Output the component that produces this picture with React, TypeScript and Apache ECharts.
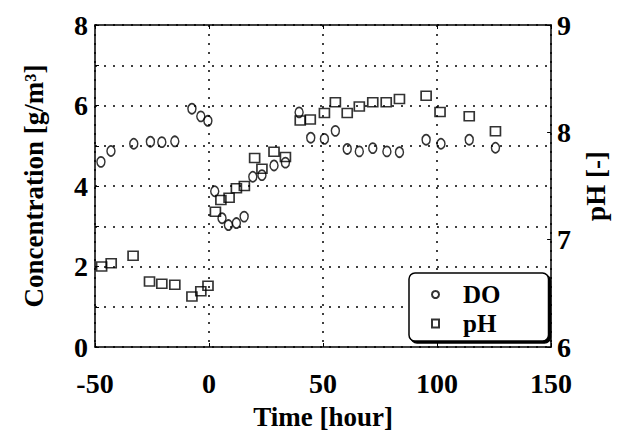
import React, { useEffect, useRef } from "react";
import * as echarts from "echarts";

const doTime = [-47.4, -43, -33, -25.7, -20.7, -15, -7.5, -3.6, -0.5, 2.5, 5.7, 8.5, 12, 15.4, 19.2, 23.2, 28.5, 33.5, 39.5, 44.6, 50.6, 55.4, 60.6, 65.9, 71.8, 78, 83.5, 95.2, 101.7, 114.1, 125.6];
const doValues = [4.6, 4.87, 5.05, 5.1, 5.09, 5.11, 5.92, 5.73, 5.62, 3.87, 3.2, 3.03, 3.08, 3.24, 4.23, 4.27, 4.51, 4.58, 5.83, 5.2, 5.17, 5.37, 4.92, 4.86, 4.94, 4.86, 4.84, 5.15, 5.05, 5.15, 4.95];

const phTime = [-47.1, -42.9, -33.3, -26.1, -20.7, -15, -7.5, -3.6, -0.45, 2.8, 5.2, 8.8, 12, 15.5, 20, 23.2, 28.5, 33.5, 40, 44.4, 50.6, 55.4, 60.6, 65.9, 71.8, 77.7, 83.5, 95.2, 101.3, 114.1, 125.6];
const phValues = [6.75, 6.78, 6.85, 6.61, 6.59, 6.58, 6.47, 6.52, 6.57, 7.26, 7.37, 7.39, 7.48, 7.5, 7.76, 7.66, 7.82, 7.77, 8.11, 8.12, 8.18, 8.28, 8.18, 8.24, 8.28, 8.28, 8.31, 8.34, 8.19, 8.15, 8.01];

const xTicks = [-50, 0, 50, 100, 150];
const concLabels = [0, 2, 4, 6, 8];
const phLabels = [6, 7, 8, 9];

const FONT = "Liberation Serif";

export default function App() {
  const ref = useRef<HTMLDivElement>(null);
  useEffect(() => {
    if (!ref.current) return;
    const chart = echarts.init(ref.current, null, { renderer: "svg" });
    const dotted = { color: "#000", width: 1.5, type: [2, 7] as any };
    const labelStyle = { color: "#000", fontFamily: FONT, fontWeight: "bold" as const, fontSize: 28 };
    const nameStyle = { color: "#000", fontFamily: FONT, fontWeight: "bold" as const, fontSize: 27 };
    chart.setOption({
      animation: false,
      backgroundColor: "#fff",
      grid: { left: 95, right: 55, top: 25, bottom: 85, containLabel: false },
      legend: {
        orient: "vertical",
        left: 409,
        top: 273,
        padding: [9, 48, 5, 22],
        itemGap: 4,
        itemWidth: 7,
        itemHeight: 8,
        backgroundColor: "#fff",
        borderColor: "#000",
        borderWidth: 1.5,
        borderRadius: 6,
        shadowColor: "#000",
        shadowBlur: 0,
        shadowOffsetX: 2,
        shadowOffsetY: 2,
        textStyle: { ...labelStyle, fontSize: 25, padding: [0, 0, 0, 19] },
        data: ["DO", "pH"],
      },
      xAxis: [
        {
          type: "value",
          min: -50,
          max: 150,
          interval: 50,
          name: "Time [hour]",
          nameLocation: "middle",
          nameGap: 56,
          nameTextStyle: nameStyle,
          axisLine: { show: true, lineStyle: { color: "#000", width: 1.5 } },
          axisTick: { show: true, inside: true, length: 4, lineStyle: { color: "#000" } },
          axisLabel: {
            ...labelStyle,
            margin: 22,
            formatter: (v: number) => (xTicks.includes(v) ? String(v) : ""),
          },
          splitLine: { show: true, lineStyle: dotted },
        },
        {
          type: "value",
          position: "top",
          min: -50,
          max: 150,
          interval: 50,
          axisLine: { show: true, onZero: false, lineStyle: { color: "#000", width: 1.5 } },
          axisTick: { show: true, inside: true, length: 4, lineStyle: { color: "#000" } },
          axisLabel: { show: false },
          splitLine: { show: false },
        },
      ],
      yAxis: [
        {
          type: "value",
          min: 0,
          max: 8,
          interval: 1,
          name: "Concentration [g/m³]",
          nameLocation: "middle",
          nameRotate: 90,
          nameGap: 48,
          nameTextStyle: nameStyle,
          axisLine: { show: true, onZero: false, lineStyle: { color: "#000", width: 1.5 } },
          axisTick: { show: true, inside: true, length: 4, lineStyle: { color: "#000" } },
          axisLabel: {
            ...labelStyle,
            margin: 7,
            formatter: (v: number) => (concLabels.includes(v) ? String(v) : ""),
          },
          splitLine: { show: true, lineStyle: dotted },
        },
        {
          type: "value",
          position: "right",
          min: 6,
          max: 9,
          interval: 1,
          name: "pH [-]",
          nameLocation: "middle",
          nameRotate: 90,
          nameGap: 25,
          nameTextStyle: nameStyle,
          axisLine: { show: true, onZero: false, lineStyle: { color: "#000", width: 1.5 } },
          axisTick: { show: true, inside: true, length: 4, lineStyle: { color: "#000" } },
          axisLabel: {
            ...labelStyle,
            margin: 6,
            formatter: (v: number) => (phLabels.includes(v) ? String(v) : ""),
          },
          splitLine: { show: false },
        },
      ],
      series: [
        {
          name: "DO",
          type: "scatter",
          xAxisIndex: 0,
          yAxisIndex: 0,
          symbol: "circle",
          symbolSize: [8, 10],
          itemStyle: { color: "rgba(255,255,255,0)", borderColor: "#000", borderWidth: 1.6 },
          data: doTime.map((t, i) => [t, doValues[i]]),
        },
        {
          name: "pH",
          type: "scatter",
          xAxisIndex: 0,
          yAxisIndex: 1,
          symbol: "rect",
          symbolSize: [10, 9],
          itemStyle: { color: "rgba(255,255,255,0)", borderColor: "#000", borderWidth: 1.6 },
          data: phTime.map((t, i) => [t, phValues[i]]),
        },
      ],
    });
    return () => chart.dispose();
  }, []);
  return <div ref={ref} style={{ position: "fixed", left: 0, top: 0, width: 617, height: 435 }} />;
}
